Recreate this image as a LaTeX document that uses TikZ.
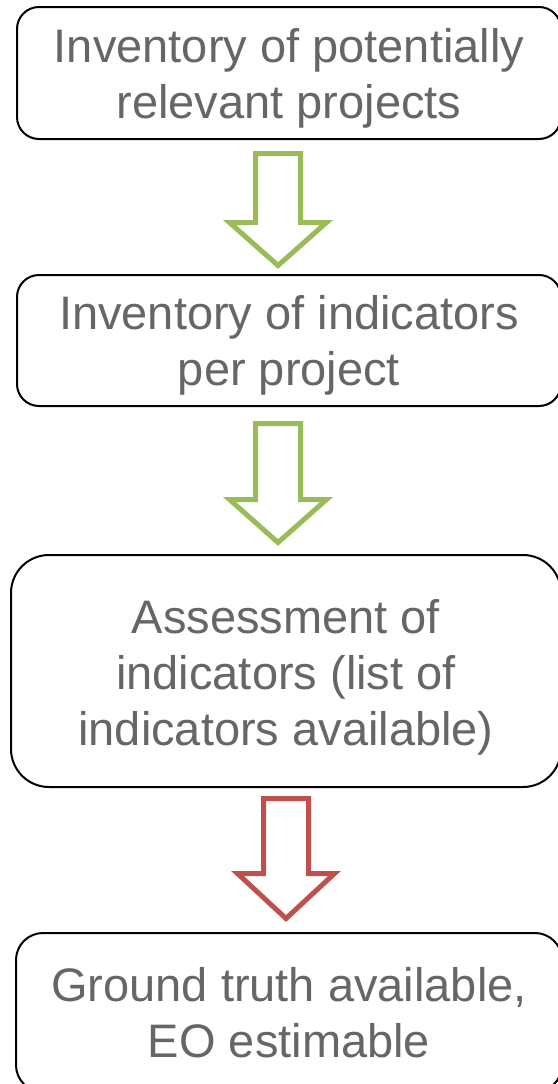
\documentclass[tikz,border=0pt]{standalone}
\usepackage{fontspec}
\setmainfont{Liberation Sans}
\definecolor{txtgray}{HTML}{666666}
\definecolor{arrgreen}{HTML}{9BBB59}
\definecolor{arrred}{HTML}{C0504D}
% hollow block arrow pointing down: colour, centre x, top, head base, tip
\newcommand{\flowarrow}[5]{%
  \draw[blockarrow, draw=#1]
    (#2-22.5,#3) -- (#2+22.5,#3) -- (#2+22.5,#4) -- (#2+48.5,#4) --
    (#2,#5) -- (#2-48.5,#4) -- (#2-22.5,#4) -- cycle;}
\begin{document}
\begin{tikzpicture}[x=1pt, y=-1pt,
  stepbox/.style={draw=black, line width=2pt, fill=white, inner sep=0pt},
  steptext/.style={inner sep=0pt, align=center, text=txtgray,
    font=\fontsize{47}{56}\selectfont},
  blockarrow/.style={line width=5pt, fill=white, line join=miter}]
\useasboundingbox (0,0) rectangle (557,1084);
% the four steps
\node[stepbox, rounded corners=22pt, minimum width=544pt, minimum height=132pt]
  (b1) at (289,73) {};
\node[stepbox, rounded corners=22pt, minimum width=544pt, minimum height=131pt]
  (b2) at (289,340.5) {};
\node[stepbox, rounded corners=38pt, minimum width=550pt, minimum height=232pt]
  (b3) at (286,671) {};
\node[stepbox, rounded corners=27pt, minimum width=546pt, minimum height=159pt]
  (b4) at (289,1012.5) {};
% their texts
\node[steptext] (t1) at ([yshift=-5pt]b1.center)
  {Inventory of potentially\\relevant projects};
\node[steptext] (t2) at ([yshift=-5pt]b2.center)
  {Inventory of indicators\\per project};
\node[steptext] (t3) at ([yshift=-6pt]b3.center)
  {Assessment of\\indicators (list of\\indicators available)};
\node[steptext] (t4) at ([yshift=0pt]b4.center)
  {Ground truth available,\\EO estimable};
% arrows between the steps
\flowarrow{arrgreen}{278}{153.5}{222.5}{265.5}
\flowarrow{arrgreen}{278}{423.5}{499.5}{542.5}
\flowarrow{arrred}{286}{798.5}{873.5}{918.5}
\end{tikzpicture}
\end{document}
